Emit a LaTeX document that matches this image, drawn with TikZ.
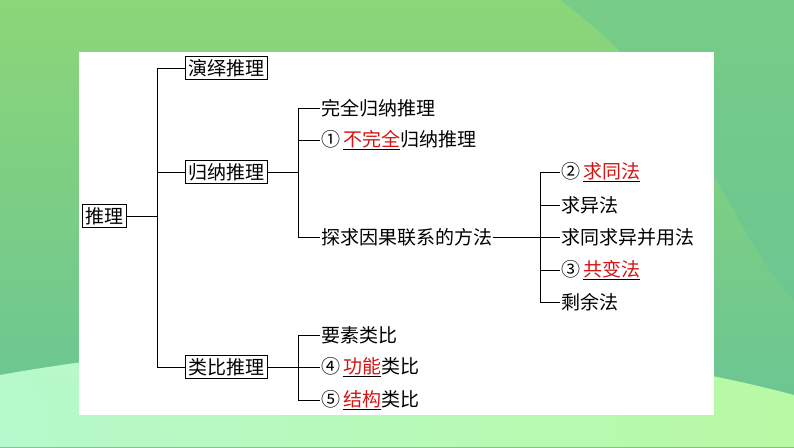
\documentclass[tikz,border=0pt]{standalone}
\usepackage{fontspec}
\setmainfont{Noto Sans CJK SC}
\definecolor{hl}{RGB}{215,20,20}
\definecolor{bgtop}{RGB}{140,214,120}
\definecolor{bgbot}{RGB}{104,196,150}
\definecolor{bgright}{RGB}{100,196,150}
\newcommand{\ans}[1]{\rlap{\underline{\phantom{#1}}}\textcolor{hl}{#1}}
\begin{document}
\begin{tikzpicture}[x=1pt,y=-1pt,
  box/.style={draw,line width=0.7pt,inner xsep=3pt,inner ysep=3pt,font=\fontsize{19}{19}\selectfont},
  lf/.style={anchor=west,inner sep=1pt,font=\fontsize{19}{19}\selectfont},
  ln/.style={line width=0.8pt}]
\useasboundingbox (0,0) rectangle (794,447);
\shade[top color=bgtop, bottom color=bgbot] (0,0) rectangle (794,447);
\fill[bgright, opacity=0.5] (560,0) .. controls (700,100) and (740,250) .. (794,300) -- (794,0) -- cycle;
\shade[left color=cyan!30!green!25, right color=lime!40!green!35, opacity=0.9] (0,375) .. controls (250,330) and (550,330) .. (794,395) -- (794,447) -- (0,447) -- cycle;
\fill[white] (79,52) rectangle (714,415);
\node[box] (tl) at (104,216) {推理};
\node[box] (yy) at (226,68) {演绎推理};
\node[box] (gn) at (226,172) {归纳推理};
\node[box] (lb) at (226,367) {类比推理};
\coordinate (t1) at (157,216);
\draw[ln] (tl.east) -- (t1);
\draw[ln] (yy.west) -| (157,367) -- (lb.west);
\draw[ln] (157,172) -- (gn.west);
\node[lf] (a1) at (320,108) {完全归纳推理};
\node[lf] (a2) at (320,140) {①\,\ans{不完全}归纳推理};
\node[lf] (a3) at (320,237) {探求因果联系的方法};
\draw[ln] (a1.west) -| (298,237) -- (a3.west);
\draw[ln] (298,140) -- (a2.west);
\draw[ln] (gn.east) -- (298,172);
\node[lf] (b1) at (560,172) {②\,\ans{求同法}};
\node[lf] (b2) at (560,205) {求异法};
\node[lf] (b3) at (560,237) {求同求异并用法};
\node[lf] (b4) at (560,270) {③\,\ans{共变法}};
\node[lf] (b5) at (560,302) {剩余法};
\draw[ln] (b1.west) -| (540,302) -- (b5.west);
\draw[ln] (540,205) -- (b2.west);
\draw[ln] (a3.east) -- (b3.west);
\draw[ln] (540,270) -- (b4.west);
\node[lf] (c1) at (320,335) {要素类比};
\node[lf] (c2) at (320,367) {④\,\ans{功能}类比};
\node[lf] (c3) at (320,400) {⑤\,\ans{结构}类比};
\draw[ln] (c1.west) -| (298,400) -- (c3.west);
\draw[ln] (lb.east) -- (c2.west);
\end{tikzpicture}
\end{document}
